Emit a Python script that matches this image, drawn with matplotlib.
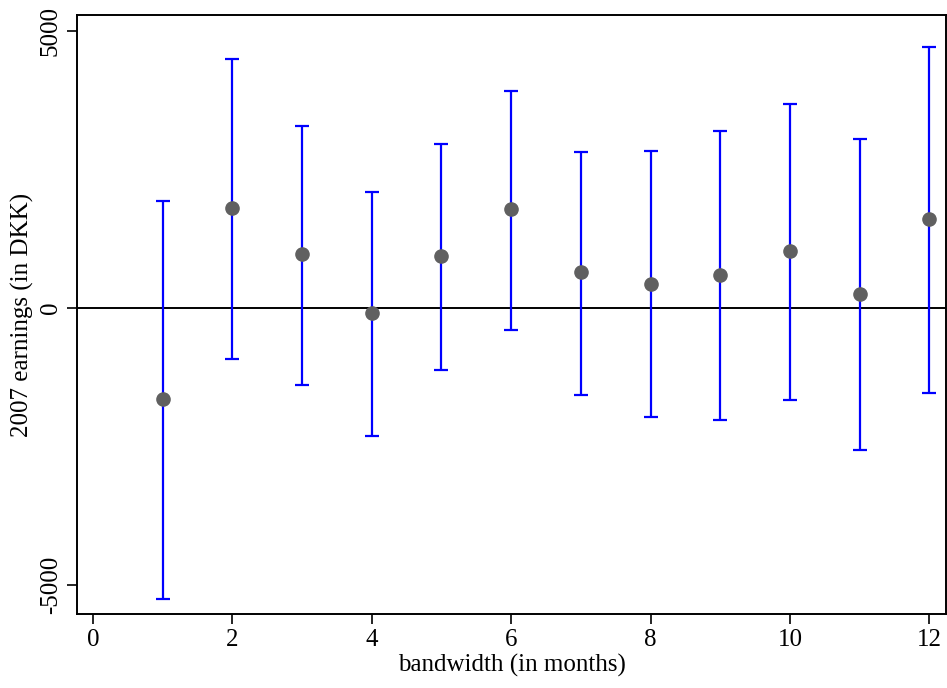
import matplotlib
matplotlib.use("Agg")
import matplotlib.pyplot as plt
import numpy as np

bandwidth = [1, 2, 3, 4, 5, 6, 7, 8, 9, 10, 11, 12]
estimate = [-1643, 1805, 975, -90, 939, 1787, 650, 433, 596, 1029, 253, 1606]
upper = [1931, 4495, 3285, 2094, 2960, 3917, 2816, 2834, 3195, 3682, 3051, 4711]
lower = [-5253, -921, -1390, -2310, -1119, -397, -1570, -1968, -2022, -1661, -2563, -1534]
xticks = [0, 2, 4, 6, 8, 10, 12]
yticks = [-5000, 0, 5000]

plt.rcParams['font.family'] = ['Liberation Serif', 'DejaVu Serif']

fig = plt.figure(figsize=(9.47, 6.88), dpi=100)
ax = fig.add_axes([0.0813, 0.1076, 0.9177, 0.8706])

est = np.array(estimate)
yerr = np.array([est - np.array(lower), np.array(upper) - est])
ax.errorbar(bandwidth, estimate, yerr=yerr, fmt='none', ecolor='#0000ff',
            elinewidth=1.6, capsize=5, capthick=1.6, zorder=2)
ax.axhline(0, color='black', lw=1.4, zorder=1)
ax.plot(bandwidth, estimate, 'o', color='#606060', markersize=9.5, zorder=3)

ax.set_xlim(-0.23, 12.24)
ax.set_ylim(-5523, 5289)
ax.set_xticks(xticks)
ax.set_yticks(yticks)
ax.set_yticklabels([str(v) for v in yticks], rotation=90, va='center')
ax.tick_params(axis='both', direction='out', length=7, width=1.2, labelsize=18, pad=4)
for s in ax.spines.values():
    s.set_linewidth(1.4)
ax.set_xlabel('bandwidth (in months)', fontsize=18, labelpad=2)
ax.set_ylabel('2007 earnings (in DKK)', fontsize=18, labelpad=4)

fig.savefig('out.png', dpi=100)
